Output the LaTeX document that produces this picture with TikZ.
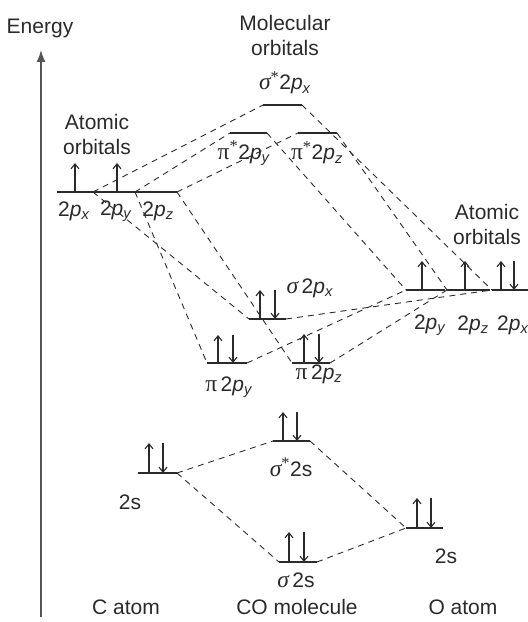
\documentclass[tikz,border=0pt]{standalone}
\usepackage{fontspec}
\setmainfont{Liberation Sans}
\newfontfamily\gkfont[Scale=1.12]{Liberation Serif}
\usetikzlibrary{arrows.meta}
\definecolor{ink}{HTML}{2A2A2A}
\newcommand\pl[1]{2\textit{p}\textsubscript{\textit{#1}}}
\newcommand\sgm{{\gkfont\itshape σ}}
\newcommand\pii{{\gkfont π}}
\newcommand\st{\textsuperscript{\gkfont *}}
\newcommand\lvl[4]{\coordinate (#1-l) at (#2,#4); \coordinate (#1-r) at (#3,#4); \draw[levelline] (#1-l) -- (#1-r);}
\begin{document}
\begin{tikzpicture}[x=1bp,y=-1bp,
  levelline/.style={draw=ink,line width=1.3bp},
  conn/.style={draw=ink,line width=0.9bp,dash pattern=on 6bp off 5bp},
  elec/.style={draw=ink,line width=1.1bp,-{Straight Barb[length=5bp,width=8bp]}},
  txt/.style={text=ink,inner sep=0pt,align=center,font=\fontsize{21bp}{25bp}\selectfont},
  axis/.style={draw=ink!80,line width=1.5bp,-{Latex[length=12bp,width=9bp]}}]
\useasboundingbox (0,0) rectangle (528,622);
% energy axis
\coordinate (axb) at (41,617);
\coordinate (axt) at (41,50);
\draw[axis] (axb) -- (axt);
\node[txt] (energy) at (40,28) {Energy};
% headings
\node[txt] (mo) at (285,35) {Molecular\\orbitals};
\node[txt] (aoL) at (97,134) {Atomic\\orbitals};
\node[txt] (aoR) at (487,224) {Atomic\\orbitals};
% levels
\lvl{Cpx}{57}{93}{192}
\lvl{Cpy}{93}{135}{192}
\lvl{Cpz}{135}{177}{192}
\lvl{ssx}{263}{302}{105}
\lvl{psy}{230}{267}{133}
\lvl{psz}{298}{337}{133}
\lvl{sx}{249}{286}{319}
\lvl{py}{207}{247}{363}
\lvl{pz}{292}{330}{363}
\lvl{Opy}{406}{445}{290}
\lvl{Opz}{447}{490}{290}
\lvl{Opx}{492}{528}{290}
\lvl{Cs}{138}{177}{473}
\lvl{sss}{273}{310}{441}
\lvl{ss}{279}{317}{562}
\lvl{Os}{406}{443}{528}
% connectors
\draw[conn] (Cpx-r) -- (ssx-l);
\draw[conn] (Cpx-r) -- (sx-l);
\draw[conn] (Cpy-r) -- (psy-l);
\draw[conn] (Cpy-r) -- (py-l);
\draw[conn] (Cpz-r) -- (psz-l);
\draw[conn] (Cpz-r) -- (pz-l);
\draw[conn] (ssx-r) -- (Opx-l);
\draw[conn] (psy-r) -- (Opy-l);
\draw[conn] (psz-r) -- (Opz-l);
\draw[conn] (sx-r) -- (Opx-l);
\draw[conn] (py-r) -- (Opy-l);
\draw[conn] (pz-r) -- (Opz-l);
\draw[conn] (Cs-r) -- (sss-l);
\draw[conn] (Cs-r) -- (ss-l);
\draw[conn] (sss-r) -- (Os-l);
\draw[conn] (ss-r) -- (Os-l);
% electrons
\draw[elec] (75,192) -- (75,163);
\draw[elec] (117,192) -- (117,163);
\draw[elec] (260,319) -- (260,290);
\draw[elec] (275,290) -- (275,319);
\draw[elec] (218,363) -- (218,335);
\draw[elec] (233,335) -- (233,363);
\draw[elec] (304,363) -- (304,334);
\draw[elec] (319,334) -- (319,363);
\draw[elec] (422,290) -- (422,261);
\draw[elec] (465,290) -- (465,261);
\draw[elec] (501,290) -- (501,261);
\draw[elec] (514,261) -- (514,290);
\draw[elec] (149,473) -- (149,443);
\draw[elec] (163,443) -- (163,473);
\draw[elec] (283,441) -- (283,412);
\draw[elec] (297,412) -- (297,441);
\draw[elec] (289,562) -- (289,532);
\draw[elec] (304,532) -- (304,562);
\draw[elec] (417,528) -- (417,498);
\draw[elec] (431,498) -- (431,528);
% labels
\node[txt] (lCpx) at (74,211) {\pl{x}};
\node[txt] (lCpy) at (116,211) {\pl{y}};
\node[txt] (lCpz) at (158,211) {\pl{z}};
\node[txt] (lssx) at (285,83) {\sgm\st\pl{x}};
\node[txt] (lpsy) at (244,153) {\pii\st\pl{y}};
\node[txt] (lpsz) at (317,153) {\pii\st\pl{z}};
\node[txt] (lsx) at (310,288) {\sgm\,\pl{x}};
\node[txt] (lpy) at (229,387) {\pii\,\pl{y}};
\node[txt] (lpz) at (319,374) {\pii\,\pl{z}};
\node[txt] (lOpy) at (430,325) {\pl{y}};
\node[txt] (lOpz) at (473,325) {\pl{z}};
\node[txt] (lOpx) at (513,325) {\pl{x}};
\node[txt] (lCs) at (130,502) {2s};
\node[txt] (lsss) at (291,467) {\sgm\st 2s};
\node[txt] (lss) at (296,580) {\sgm\,2s};
\node[txt] (lOs) at (446,556) {2s};
\node[txt] (catom) at (126,607) {C atom};
\node[txt] (comol) at (297,607) {CO molecule};
\node[txt] (oatom) at (463,607) {O atom};
\end{tikzpicture}
\end{document}
